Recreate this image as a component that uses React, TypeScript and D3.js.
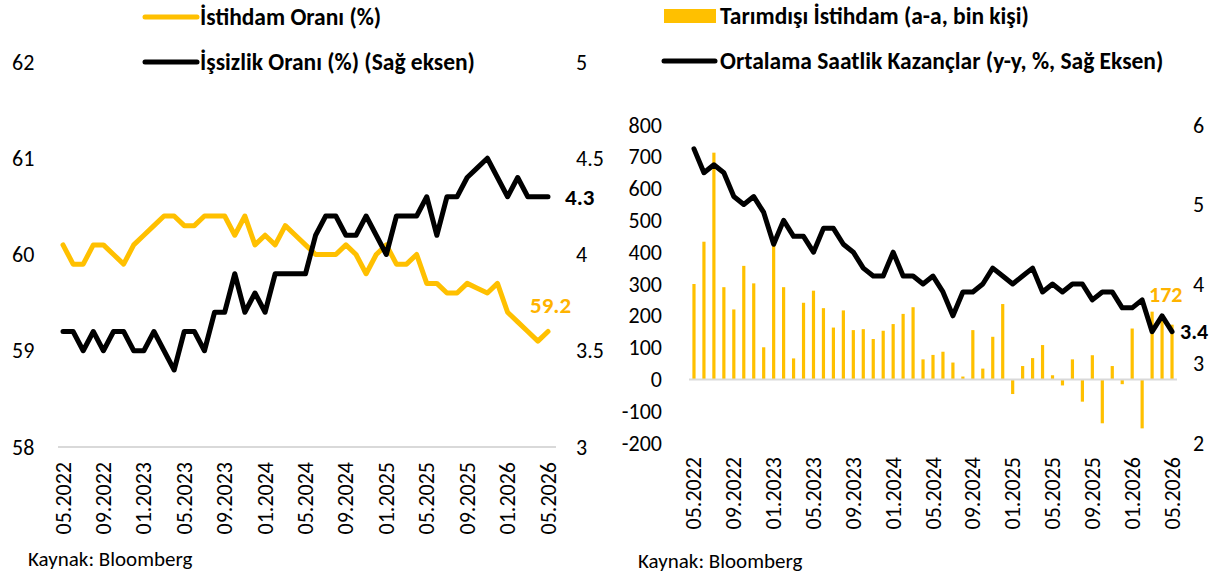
import React from "react";
import * as d3 from "d3";

// monthly categories 05.2022 .. 05.2026
const months = d3
  .timeMonths(new Date(2022, 4, 1), new Date(2026, 5, 1))
  .map(d3.timeFormat("%m.%Y"));
const tickLabels = months.filter((_, i) => i % 4 === 0);

const employmentRate = [
  60.1, 59.9, 59.9, 60.1, 60.1, 60.0, 59.9, 60.1, 60.2, 60.3, 60.4, 60.4, 60.3,
  60.3, 60.4, 60.4, 60.4, 60.2, 60.4, 60.1, 60.2, 60.1, 60.3, 60.2, 60.1, 60.0,
  60.0, 60.0, 60.1, 60.0, 59.8, 60.0, 60.1, 59.9, 59.9, 60.0, 59.7, 59.7, 59.6,
  59.6, 59.7, 59.65, 59.6, 59.7, 59.4, 59.3, 59.2, 59.1, 59.2,
];
const unemploymentRate = [
  3.6, 3.6, 3.5, 3.6, 3.5, 3.6, 3.6, 3.5, 3.5, 3.6, 3.5, 3.4, 3.6, 3.6, 3.5,
  3.7, 3.7, 3.9, 3.7, 3.8, 3.7, 3.9, 3.9, 3.9, 3.9, 4.1, 4.2, 4.2, 4.1, 4.1,
  4.2, 4.1, 4.0, 4.2, 4.2, 4.2, 4.3, 4.1, 4.3, 4.3, 4.4, 4.45, 4.5, 4.4, 4.3,
  4.4, 4.3, 4.3, 4.3,
];
const payrolls = [
  300, 433, 713, 290, 220, 357, 302, 101, 425, 290, 66, 241, 279, 224, 163, 217,
  155, 158, 127, 153, 174, 206, 227, 63, 77, 87, 53, 9, 155, 34, 134, 237, -46,
  42, 67, 108, 13, -19, 63, -70, 76, -138, 42, -15, 160, -154, 213, 200, 172,
];
const earnings = [
  5.7, 5.4, 5.5, 5.4, 5.1, 5.0, 5.1, 4.9, 4.5, 4.8, 4.6, 4.6, 4.4, 4.7, 4.7,
  4.5, 4.4, 4.2, 4.1, 4.1, 4.4, 4.1, 4.1, 4.0, 4.1, 3.9, 3.6, 3.9, 3.9, 4.0,
  4.2, 4.1, 4.0, 4.1, 4.2, 3.9, 4.0, 3.9, 4.0, 4.0, 3.8, 3.9, 3.9, 3.7, 3.7,
  3.8, 3.4, 3.6, 3.4,
];

const leftTicks = [58, 59, 60, 61, 62];
const leftRightTicks = [3, 3.5, 4, 4.5, 5];
const barTicks = [-200, -100, 0, 100, 200, 300, 400, 500, 600, 700, 800];
const earnTicks = [2, 3, 4, 5, 6];

const YELLOW = "#FFC000";
const LABEL_YELLOW = "#FFB300";
const FONT = "Calibri, Carlito, Lato, sans-serif";

export default function App() {
  const width = 1227;
  const height = 575;

  // left panel scales
  const xL = d3.scalePoint<string>().domain(months).range([63, 548]);
  const yL = d3.scaleLinear().domain([58, 62]).range([447, 62]);
  const yL2 = d3.scaleLinear().domain([3, 5]).range([447, 62]);

  // right panel scales
  const xR = d3.scaleBand<string>().domain(months).range([689, 1177]);
  const yBar = d3.scaleLinear().domain([-200, 800]).range([443, 125]);
  const yEarn = d3.scaleLinear().domain([2, 6]).range([443, 125]);
  const cx = (m: string) => (xR(m) as number) + xR.bandwidth() / 2;

  const empLine = d3
    .line<number>()
    .x((_, i) => xL(months[i]) as number)
    .y((d) => yL(d));
  const unempLine = d3
    .line<number>()
    .x((_, i) => xL(months[i]) as number)
    .y((d) => yL2(d));
  const earnLine = d3
    .line<number>()
    .x((_, i) => cx(months[i]))
    .y((d) => yEarn(d));

  const axisText = { fontSize: 22, fill: "#000", fontFamily: FONT };
  const legendFont = 23.5;

  return (
    <svg
      width={width}
      height={height}
      style={{ position: "absolute", left: 0, top: 0, background: "#fff" }}
      fontFamily={FONT}
    >
      {/* ---------- left panel ---------- */}
      <g>
        <line x1={145} x2={197} y1={17} y2={17} stroke={YELLOW} strokeWidth={5} strokeLinecap="round" />
        <text x={200} y={17} dominantBaseline="central" fontSize={legendFont} fontWeight="bold">
          İstihdam Oranı (%)
        </text>
        <line x1={145} x2={197} y1={62} y2={62} stroke="#000" strokeWidth={5} strokeLinecap="round" />
        <text x={200} y={62} dominantBaseline="central" fontSize={legendFont} fontWeight="bold">
          İşsizlik Oranı (%) (Sağ eksen)
        </text>

        {leftTicks.map((t) => (
          <text key={t} x={12} y={yL(t)} dominantBaseline="central" {...axisText}>
            {t}
          </text>
        ))}
        {leftRightTicks.map((t) => (
          <text key={t} x={576} y={yL2(t)} dominantBaseline="central" {...axisText}>
            {t}
          </text>
        ))}

        <line x1={58} x2={556} y1={yL(58)} y2={yL(58)} stroke="#d9d9d9" strokeWidth={2} />

        <path d={empLine(employmentRate) || ""} fill="none" stroke={YELLOW} strokeWidth={5} strokeLinejoin="round" strokeLinecap="round" />
        <path d={unempLine(unemploymentRate) || ""} fill="none" stroke="#000" strokeWidth={5} strokeLinejoin="round" strokeLinecap="round" />

        {tickLabels.map((m) => (
          <text
            key={m}
            transform={`translate(${xL(m)},462) rotate(-90)`}
            textAnchor="end"
            dominantBaseline="central"
            {...axisText}
          >
            {m}
          </text>
        ))}

        <text x={565} y={yL2(4.3)} dominantBaseline="central" fontSize={23} fontWeight="bold">
          4.3
        </text>
        <text x={530} y={305} dominantBaseline="central" fontSize={23} fontWeight="bold" fill={LABEL_YELLOW}>
          59.2
        </text>
        <text x={28} y={559} dominantBaseline="central" fontSize={21}>
          Kaynak: Bloomberg
        </text>
      </g>

      {/* ---------- right panel ---------- */}
      <g>
        <rect x={664} y={9} width={52} height={14} fill={YELLOW} />
        <text x={720} y={16} dominantBaseline="central" fontSize={legendFont} fontWeight="bold">
          Tarımdışı İstihdam (a-a, bin kişi)
        </text>
        <line x1={664} x2={715} y1={61} y2={61} stroke="#000" strokeWidth={5} strokeLinecap="round" />
        <text x={720} y={61} dominantBaseline="central" fontSize={legendFont} fontWeight="bold">
          Ortalama Saatlik Kazançlar (y-y, %, Sağ Eksen)
        </text>

        {barTicks.map((t) => (
          <text key={t} x={662} y={yBar(t)} textAnchor="end" dominantBaseline="central" {...axisText}>
            {t}
          </text>
        ))}
        {earnTicks.map((t) => (
          <text key={t} x={1193} y={yEarn(t)} dominantBaseline="central" {...axisText}>
            {t}
          </text>
        ))}

        {payrolls.map((v, i) => (
          <rect
            key={i}
            x={cx(months[i]) - 1.6}
            width={3.2}
            y={yBar(Math.max(0, v))}
            height={Math.abs(yBar(v) - yBar(0))}
            fill={YELLOW}
          />
        ))}
        <line x1={689} x2={1177} y1={yBar(0)} y2={yBar(0)} stroke="#d9d9d9" strokeWidth={2} />

        <path d={earnLine(earnings) || ""} fill="none" stroke="#000" strokeWidth={5} strokeLinejoin="round" strokeLinecap="round" />

        {tickLabels.map((m) => (
          <text
            key={m}
            transform={`translate(${cx(m)},457) rotate(-90)`}
            textAnchor="end"
            dominantBaseline="central"
            {...axisText}
          >
            {m}
          </text>
        ))}

        <text x={1149} y={294} dominantBaseline="central" fontSize={22} fontWeight="bold" fill={LABEL_YELLOW}>
          172
        </text>
        <text x={1180} y={yEarn(3.4)} dominantBaseline="central" fontSize={22} fontWeight="bold">
          3.4
        </text>
        <text x={638} y={561} dominantBaseline="central" fontSize={21}>
          Kaynak: Bloomberg
        </text>
      </g>
    </svg>
  );
}
